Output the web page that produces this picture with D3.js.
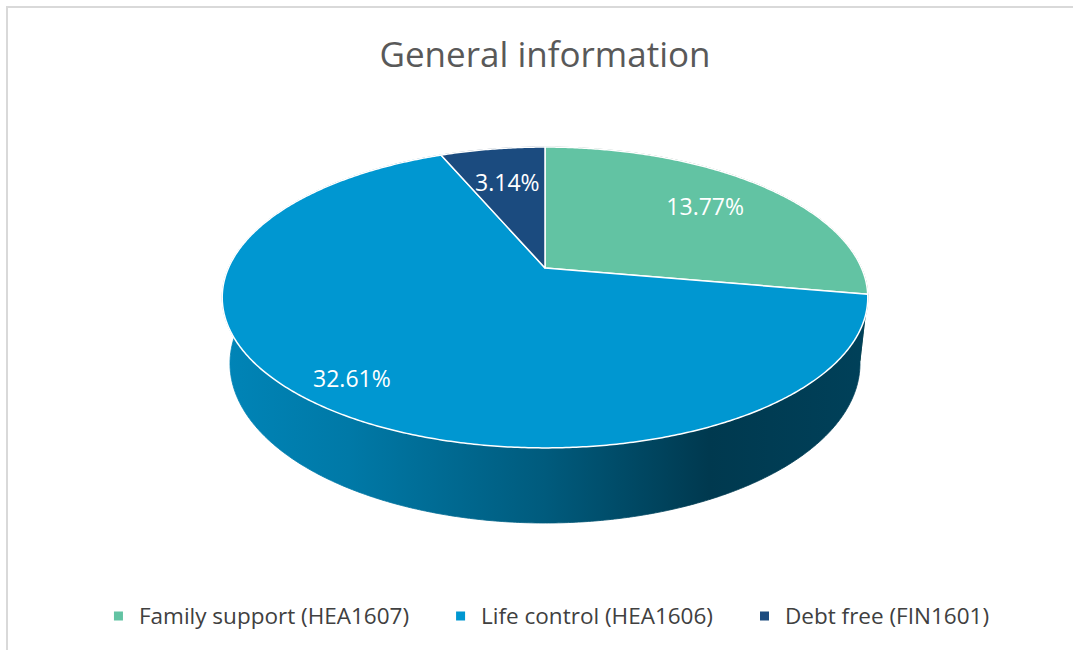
<!DOCTYPE html>
<html>
<head>
<meta charset="utf-8">
<script src="https://cdn.jsdelivr.net/npm/d3@7"></script>
<style>
  html, body { margin: 0; padding: 0; background: #fff; }
  svg { display: block; }
  text { font-family: "Open Sans", "Noto Sans", sans-serif; }
</style>
</head>
<body>
<svg id="chart" width="1073" height="650"></svg>
<script>
// ---- data ----
const categories = ["Family support (HEA1607)", "Life control (HEA1606)", "Debt free (FIN1601)"];
const values = [13.77, 32.61, 3.14];
const valueLabels = ["13.77%", "32.61%", "3.14%"];
const colors = ["#62C3A3", "#0097D1", "#1B4B7F"];
const title = "General information";

// ---- layout / style ----
const W = 1073, H = 650;
const cx = 545, cy = 268;          // projected pie centre
const F = 1437, Dist = 4.54;        // perspective
const sinA = 0.457, cosA = 0.8895;  // elevation
const depth = 0.236;                // thickness (in radius units)
const labelRadius = [0.72, 0.85, 0.68];

const svg = d3.select("#chart");

// frame
svg.append("rect")
  .attr("x", 7).attr("y", 7).attr("width", W + 10).attr("height", H + 10)
  .attr("fill", "#fff").attr("stroke", "#D9D9D9").attr("stroke-width", 2);

// title
svg.append("text")
  .attr("x", 545).attr("y", 67)
  .attr("text-anchor", "middle")
  .attr("font-size", 35)
  .attr("fill", "#595959")
  .text(title);

// projection of a point on the pie (angle clockwise from 12 o'clock)
function project(a, r, y) {
  const X = r * Math.sin(a);
  const Z = -r * Math.cos(a);
  const Y = y;
  const d = Dist - Z * cosA - Y * sinA;
  return [cx + F * X / d, cy + F * (Z * sinA - Y * cosA) / d];
}

const pie = d3.pie().sort(null).value(d => d);
const arcs = pie(values);

function sampleAngles(a0, a1) {
  const n = Math.max(2, Math.ceil((a1 - a0) / (Math.PI / 360)));
  return d3.range(n + 1).map(i => a0 + (a1 - a0) * i / n);
}

const line = d3.line();

// gradients for side walls
const defs = svg.append("defs");
const xLeft = project(-Math.PI / 2 - 0.2, 1, 0)[0] - 5;
const xRight = project(Math.PI / 2 + 0.2, 1, 0)[0] + 5;
const shadeStops = [[0, 0.12], [0.2, 0.2], [0.5, 0.40], [0.75, 0.62], [1, 0.57]];
colors.forEach((c, i) => {
  const g = defs.append("linearGradient")
    .attr("id", "side" + i)
    .attr("gradientUnits", "userSpaceOnUse")
    .attr("x1", xLeft).attr("x2", xRight).attr("y1", 0).attr("y2", 0);
  shadeStops.forEach(([o, t]) => {
    g.append("stop").attr("offset", o).attr("stop-color", d3.interpolateRgb(c, "#000")(t));
  });
});

const pieG = svg.append("g");

// side walls
arcs.forEach((d, i) => {
  const angs = sampleAngles(d.startAngle, d.endAngle);
  const top = angs.map(a => project(a, 1, 0));
  const bot = angs.slice().reverse().map(a => project(a, 1, -depth));
  pieG.append("path")
    .attr("d", line(top.concat(bot)) + "Z")
    .attr("fill", `url(#side${i})`)
    .attr("stroke", `url(#side${i})`)
    .attr("stroke-width", 0.8);
});

// top faces
arcs.forEach((d, i) => {
  const angs = sampleAngles(d.startAngle, d.endAngle);
  const pts = [project(0, 0, 0)].concat(angs.map(a => project(a, 1, 0)));
  pieG.append("path")
    .attr("d", line(pts) + "Z")
    .attr("fill", colors[i])
    .attr("stroke", "#fff")
    .attr("stroke-width", 1.5)
    .attr("stroke-linejoin", "round");
});

// data labels
arcs.forEach((d, i) => {
  const mid = (d.startAngle + d.endAngle) / 2;
  const p = project(mid, labelRadius[i], 0);
  svg.append("text")
    .attr("x", p[0]).attr("y", p[1])
    .attr("dy", "0.36em")
    .attr("text-anchor", "middle")
    .attr("font-size", 23)
    .attr("fill", "#fff")
    .text(valueLabels[i]);
});

// legend
const legendG = svg.append("g");
const legendY = 616;
const mark = 9, gapMT = 16, gapItem = 47;
const items = categories.map((c, i) => {
  const t = legendG.append("text")
    .attr("y", legendY).attr("dy", "0.35em")
    .attr("font-size", 22.5)
    .attr("fill", "#404040")
    .text(c);
  return { t, w: t.node().getComputedTextLength(), i };
});
const total = d3.sum(items, d => mark + gapMT + d.w) + gapItem * (items.length - 1);
let x = 551.5 - total / 2;
items.forEach(d => {
  legendG.append("rect")
    .attr("x", x).attr("y", legendY - mark / 2)
    .attr("width", mark).attr("height", mark)
    .attr("fill", colors[d.i]);
  d.t.attr("x", x + mark + gapMT);
  x += mark + gapMT + d.w + gapItem;
});
</script>
</body>
</html>
